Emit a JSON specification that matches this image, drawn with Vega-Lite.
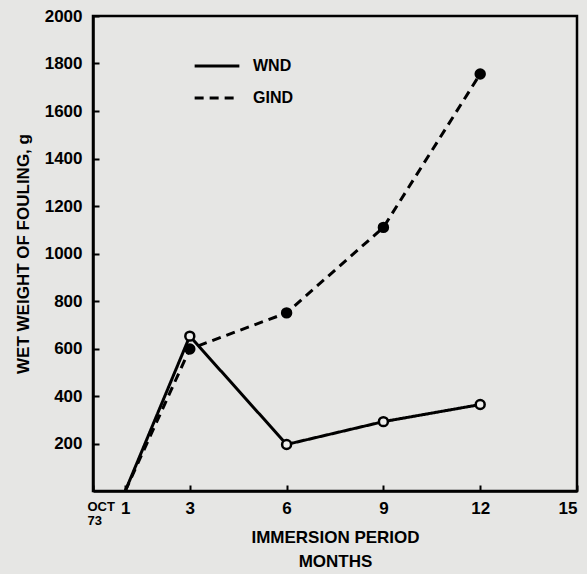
{
  "$schema": "https://vega.github.io/schema/vega-lite/v6.json",
  "width": 484,
  "height": 475,
  "autosize": {"type": "none"},
  "padding": {"left": 93, "top": 16, "right": 10, "bottom": 83},
  "background": "#e6e6e4",
  "config": {
    "view": {"stroke": "black", "strokeWidth": 2.5},
    "font": "Liberation Sans",
    "axis": {
      "labelFont": "Liberation Sans",
      "labelFontWeight": "bold",
      "labelFontSize": 17,
      "labelColor": "black",
      "titleFont": "Liberation Sans",
      "titleFontWeight": "bold",
      "titleFontSize": 17,
      "titleColor": "black",
      "domainColor": "black",
      "domainWidth": 2.5,
      "tickColor": "black",
      "tickWidth": 2,
      "grid": false,
      "labelOverlap": false
    }
  },
  "data": {
    "values": [
      {"series": "WND", "month": 1, "weight": 0},
      {"series": "WND", "month": 3, "weight": 652},
      {"series": "WND", "month": 6, "weight": 196},
      {"series": "WND", "month": 9, "weight": 292},
      {"series": "WND", "month": 12, "weight": 364},
      {"series": "GIND", "month": 1, "weight": 0},
      {"series": "GIND", "month": 3, "weight": 598},
      {"series": "GIND", "month": 6, "weight": 750},
      {"series": "GIND", "month": 9, "weight": 1110},
      {"series": "GIND", "month": 12, "weight": 1756}
    ]
  },
  "layer": [
    {
      "mark": {"type": "line", "color": "black", "strokeWidth": 3},
      "encoding": {
        "x": {
          "field": "month", "type": "quantitative",
          "scale": {"domain": [0, 15], "nice": false},
          "axis": {
            "values": [0, 1, 3, 6, 9, 12, 15],
            "format": "d",
            "tickSize": -6,
            "labelPadding": 15,
            "labelFontSize": {"condition": {"test": "datum.value == 0", "value": 13}, "value": 17},
            "labelOffset": {"condition": {"test": "datum.value == 0", "value": -6}, "value": 0},
            "labelLineHeight": 14,
            "labelExpr": "datum.value == 0 ? ['OCT', '73'] : datum.label",
            "title": ["IMMERSION PERIOD", "MONTHS"],
            "titleY": 38,
            "titleLineHeight": 24
          }
        },
        "y": {
          "field": "weight", "type": "quantitative",
          "scale": {"domain": [0, 2000], "nice": false},
          "axis": {
            "values": [200, 400, 600, 800, 1000, 1200, 1400, 1600, 1800, 2000],
            "format": "d",
            "tickSize": -6,
            "labelPadding": 17,
            "title": "WET WEIGHT OF FOULING, g",
            "titlePadding": 12
          }
        },
        "strokeDash": {
          "field": "series", "type": "nominal",
          "scale": {"domain": ["WND", "GIND"], "range": [[1, 0], [9, 6]]},
          "legend": {
            "title": null,
            "orient": "none",
            "legendX": 100,
            "legendY": 26,
            "symbolType": "stroke",
            "symbolSize": 2000,
            "symbolStrokeWidth": 3,
            "symbolStrokeColor": "black",
            "labelFont": "Liberation Sans",
            "labelFontWeight": "bold",
            "labelFontSize": 16,
            "labelColor": "black",
            "labelOffset": 12,
            "rowPadding": -4
          }
        }
      }
    },
    {
      "transform": [{"filter": "datum.month > 1"}],
      "mark": {"type": "point", "shape": "circle", "size": 80, "stroke": "black", "strokeWidth": 2.5, "opacity": 1},
      "encoding": {
        "x": {"field": "month", "type": "quantitative"},
        "y": {"field": "weight", "type": "quantitative"},
        "fill": {
          "field": "series", "type": "nominal",
          "scale": {"domain": ["WND", "GIND"], "range": ["#eeeeec", "black"]},
          "legend": null
        }
      }
    }
  ]
}
